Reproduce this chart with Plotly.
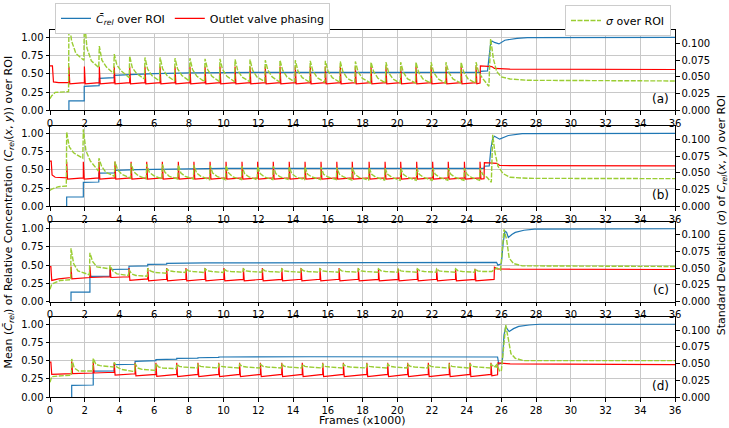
import plotly.graph_objects as go

# ---------------- axis ticks / labels ----------------
FRAME_TICKS = [0, 2, 4, 6, 8, 10, 12, 14, 16, 18, 20, 22, 24, 26, 28, 30, 32, 34, 36]
FRAME_TICK_TEXT = [str(v) for v in FRAME_TICKS]
MEAN_TICKS = [0, 0.25, 0.5, 0.75, 1.0]
MEAN_TICK_TEXT = ["0.00", "0.25", "0.50", "0.75", "1.00"]
SIG_TICKS = [0, 0.025, 0.05, 0.075, 0.1]
SIG_TICK_TEXT = ["0.000", "0.025", "0.050", "0.075", "0.100"]
PANEL_LABELS = ["(a)", "(b)", "(c)", "(d)"]

# ---------------- panel (a) ----------------
A_BLUE = [(1.09, 0), (1.09, 0.13), (1.97, 0.13), (1.97, 0.33), (2.83, 0.34), (2.84, 0.44),
          (3.69, 0.45), (3.70, 0.48), (4.6, 0.49), (6, 0.505), (8, 0.515), (12, 0.52),
          (24.78, 0.52), (24.8, 0.535), (25.2, 0.54), (25.3, 0.80), (25.38, 0.92), (25.46, 0.95),
          (25.6, 0.93), (25.86, 0.91), (26.2, 0.96), (26.9, 0.985), (27.5, 0.995), (36, 1.0)]
A_RED_HEAD = [(0, 0.61), (0.14, 0.61), (0.2, 0.39), (0.5, 0.38)]
A_RED = [(1.09, 0.38, 0.60, 0.365), (1.98, 0.38, 0.60, 0.365), (2.84, 0.38, 0.60, 0.365),
         (3.70, 0.38, 0.60, 0.365), (4.59, 0.38, 0.60, 0.365), (5.47, 0.38, 0.60, 0.365),
         (6.34, 0.38, 0.60, 0.365), (7.20, 0.38, 0.60, 0.365), (8.06, 0.38, 0.60, 0.365),
         (8.93, 0.38, 0.60, 0.365), (9.79, 0.38, 0.60, 0.365), (10.66, 0.38, 0.60, 0.365),
         (11.52, 0.38, 0.60, 0.365), (12.40, 0.38, 0.60, 0.365), (13.25, 0.38, 0.60, 0.365),
         (14.13, 0.38, 0.60, 0.365), (14.99, 0.38, 0.60, 0.365), (15.86, 0.38, 0.60, 0.365),
         (16.72, 0.38, 0.60, 0.365), (17.59, 0.38, 0.60, 0.365), (18.49, 0.38, 0.60, 0.365),
         (19.35, 0.38, 0.60, 0.365), (20.20, 0.38, 0.60, 0.365), (21.08, 0.38, 0.60, 0.365),
         (21.95, 0.38, 0.60, 0.365), (22.81, 0.38, 0.60, 0.365), (23.68, 0.38, 0.60, 0.365),
         (24.54, 0.38, 0.60, 0.365)]
A_RED_TAIL = [(24.77, 0.375), (24.79, 0.61), (25.45, 0.60), (25.6, 0.575), (26.5, 0.565), (36, 0.56)]
A_SIG_HEAD = [(0, 0.0175), (0.1, 0.022), (0.3, 0.027), (1.07, 0.028)]
A_SIG = [(1.09, 0.136, 0.104, 0.085, 0.075), (1.98, 0.136, 0.093, 0.074, 0.064),
         (2.84, 0.096, 0.075, 0.065, 0.055), (3.70, 0.084, 0.068, 0.059, 0.049),
         (4.59, 0.081, 0.064, 0.055, 0.047), (5.47, 0.079, 0.062, 0.052, 0.044),
         (6.34, 0.079, 0.062, 0.052, 0.044), (7.20, 0.078, 0.062, 0.052, 0.044),
         (8.06, 0.078, 0.061, 0.051, 0.043), (8.93, 0.077, 0.061, 0.051, 0.043),
         (9.79, 0.077, 0.061, 0.051, 0.043), (10.66, 0.076, 0.060, 0.050, 0.043),
         (11.52, 0.076, 0.060, 0.050, 0.043), (12.40, 0.075, 0.060, 0.050, 0.0425),
         (13.25, 0.075, 0.060, 0.050, 0.0425), (14.13, 0.075, 0.059, 0.049, 0.042),
         (14.99, 0.074, 0.059, 0.049, 0.042), (15.86, 0.074, 0.059, 0.049, 0.042),
         (16.72, 0.073, 0.058, 0.048, 0.042), (17.59, 0.073, 0.058, 0.048, 0.041),
         (18.49, 0.072, 0.058, 0.048, 0.041), (19.35, 0.072, 0.057, 0.047, 0.041),
         (20.20, 0.072, 0.057, 0.047, 0.041), (21.08, 0.072, 0.057, 0.047, 0.041),
         (21.95, 0.072, 0.057, 0.047, 0.041), (22.81, 0.072, 0.057, 0.047, 0.041),
         (23.68, 0.072, 0.057, 0.047, 0.041), (24.54, 0.072, 0.057, 0.047, 0.041)]
A_SIG_TAIL = [(25.14, 0.041), (25.28, 0.036), (25.38, 0.107), (25.54, 0.077), (25.73, 0.058),
              (26.0, 0.050), (26.5, 0.047), (27.5, 0.045), (36, 0.044)]

# ---------------- panel (b) ----------------
B_BLUE = [(0.96, 0), (0.96, 0.13), (1.92, 0.13), (1.92, 0.33), (2.81, 0.335), (2.82, 0.455),
          (3.73, 0.46), (3.74, 0.495), (5, 0.505), (7, 0.515), (10, 0.52), (25.0, 0.52),
          (25.02, 0.55), (25.3, 0.555), (25.4, 0.80), (25.5, 0.93), (25.6, 0.96), (25.9, 0.92),
          (26.4, 0.97), (27.2, 0.995), (36, 1.0)]
B_RED_HEAD = [(0, 0.62), (0.07, 0.62), (0.12, 0.43), (0.3, 0.40)]
B_RED = [(0.96, 0.39, 0.61, 0.375), (1.92, 0.39, 0.61, 0.375), (2.82, 0.39, 0.61, 0.375),
         (3.74, 0.39, 0.61, 0.375), (4.67, 0.39, 0.61, 0.375), (5.57, 0.39, 0.61, 0.375),
         (6.47, 0.39, 0.61, 0.375), (7.39, 0.39, 0.61, 0.375), (8.29, 0.39, 0.61, 0.375),
         (9.22, 0.39, 0.61, 0.375), (10.14, 0.39, 0.61, 0.375), (11.06, 0.39, 0.61, 0.375),
         (11.96, 0.39, 0.61, 0.375), (12.86, 0.39, 0.61, 0.375), (13.78, 0.39, 0.61, 0.375),
         (14.69, 0.39, 0.61, 0.375), (15.61, 0.39, 0.61, 0.375), (16.52, 0.39, 0.61, 0.375),
         (17.41, 0.39, 0.61, 0.375), (18.38, 0.39, 0.61, 0.375), (19.30, 0.39, 0.61, 0.375),
         (20.20, 0.39, 0.61, 0.375), (21.12, 0.39, 0.61, 0.375), (22.04, 0.39, 0.61, 0.375),
         (22.94, 0.39, 0.61, 0.375), (23.87, 0.39, 0.61, 0.375), (24.77, 0.39, 0.61, 0.375)]
B_RED_TAIL = [(25.0, 0.38), (25.02, 0.60), (25.75, 0.59), (25.9, 0.56), (36, 0.555)]
B_SIG_HEAD = [(0, 0.024), (0.1, 0.026), (0.5, 0.0295), (0.94, 0.0305)]
B_SIG = [(0.96, 0.111, 0.089, 0.080, 0.072), (1.92, 0.115, 0.083, 0.068, 0.053),
         (2.82, 0.072, 0.060, 0.051, 0.045), (3.74, 0.067, 0.055, 0.048, 0.0425),
         (4.67, 0.064, 0.052, 0.046, 0.041), (5.57, 0.063, 0.051, 0.046, 0.041),
         (6.47, 0.063, 0.051, 0.045, 0.041), (7.39, 0.062, 0.050, 0.045, 0.041),
         (8.29, 0.062, 0.050, 0.045, 0.040), (9.22, 0.061, 0.050, 0.045, 0.040),
         (10.14, 0.061, 0.050, 0.044, 0.040), (11.06, 0.060, 0.049, 0.044, 0.040),
         (11.96, 0.060, 0.049, 0.044, 0.040), (12.86, 0.060, 0.049, 0.044, 0.040),
         (13.78, 0.059, 0.049, 0.044, 0.040), (14.69, 0.059, 0.048, 0.044, 0.040),
         (15.61, 0.059, 0.048, 0.044, 0.040), (16.52, 0.058, 0.048, 0.044, 0.0395),
         (17.41, 0.058, 0.048, 0.0435, 0.0395), (18.38, 0.058, 0.048, 0.0435, 0.0395),
         (19.30, 0.057, 0.048, 0.0435, 0.039), (20.20, 0.057, 0.048, 0.0435, 0.039),
         (21.12, 0.057, 0.048, 0.0435, 0.039), (22.04, 0.057, 0.048, 0.0435, 0.039),
         (22.94, 0.057, 0.048, 0.0435, 0.039), (23.87, 0.057, 0.048, 0.0435, 0.039),
         (24.77, 0.057, 0.048, 0.0435, 0.039)]
B_SIG_TAIL = [(25.3, 0.039), (25.42, 0.036), (25.5, 0.107), (25.62, 0.082), (25.8, 0.060),
              (26.1, 0.049), (26.5, 0.0435), (27.5, 0.042), (36, 0.0415)]

# ---------------- panel (c) ----------------
C_BLUE = [(1.21, 0), (1.21, 0.13), (2.30, 0.13), (2.30, 0.345), (3.46, 0.35), (3.46, 0.44),
          (4.55, 0.445), (4.55, 0.485), (5.63, 0.49), (5.63, 0.51), (6.72, 0.515), (6.72, 0.525),
          (9, 0.53), (14, 0.535), (25.72, 0.537), (25.8, 0.50), (26.0, 0.52), (26.1, 0.80),
          (26.2, 0.97), (26.3, 0.95), (26.4, 0.88), (26.6, 0.92), (26.8, 0.95), (27.3, 0.98),
          (27.9, 0.995), (36, 1.0)]
C_RED_HEAD = [(0, 0.48), (0.05, 0.48), (0.1, 0.29), (0.5, 0.31)]
C_RED = [(1.21, 0.33, 0.48, 0.31), (2.30, 0.33, 0.48, 0.33), (3.46, 0.34, 0.47, 0.33),
         (4.55, 0.34, 0.46, 0.29), (5.63, 0.31, 0.46, 0.285), (6.72, 0.305, 0.46, 0.285),
         (7.83, 0.305, 0.46, 0.285), (8.93, 0.305, 0.46, 0.285), (10.02, 0.305, 0.46, 0.285),
         (11.14, 0.305, 0.46, 0.285), (12.23, 0.305, 0.46, 0.285), (13.35, 0.305, 0.46, 0.285),
         (14.46, 0.305, 0.46, 0.285), (15.55, 0.305, 0.46, 0.285), (16.65, 0.305, 0.46, 0.285),
         (17.76, 0.305, 0.46, 0.285), (18.92, 0.305, 0.45, 0.285), (20.06, 0.305, 0.45, 0.285),
         (21.16, 0.305, 0.45, 0.285), (22.27, 0.305, 0.45, 0.285), (23.36, 0.305, 0.45, 0.285),
         (24.48, 0.305, 0.45, 0.285)]
C_RED_TAIL = [(25.58, 0.305), (25.6, 0.47), (25.75, 0.45), (26.5, 0.445), (36, 0.44)]
C_SIG_HEAD = [(0, 0.0185), (0.1, 0.026), (0.58, 0.0316), (1.19, 0.0327)]
C_SIG = [(1.21, 0.080, 0.057, 0.046, 0.040), (2.30, 0.073, 0.060, 0.052, 0.049),
         (3.46, 0.0545, 0.046, 0.0415, 0.039), (4.55, 0.048, 0.0415, 0.039, 0.038),
         (5.63, 0.050, 0.046, 0.0435, 0.0425), (6.72, 0.049, 0.046, 0.045, 0.0435),
         (7.83, 0.049, 0.046, 0.045, 0.0435), (8.93, 0.049, 0.046, 0.045, 0.0435),
         (10.02, 0.049, 0.046, 0.045, 0.044), (11.14, 0.049, 0.046, 0.045, 0.044),
         (12.23, 0.049, 0.046, 0.045, 0.044), (13.35, 0.049, 0.046, 0.045, 0.044),
         (14.46, 0.049, 0.046, 0.045, 0.044), (15.55, 0.049, 0.046, 0.045, 0.044),
         (16.65, 0.049, 0.046, 0.045, 0.044), (17.76, 0.049, 0.046, 0.045, 0.044),
         (18.92, 0.049, 0.046, 0.045, 0.044), (20.06, 0.049, 0.046, 0.045, 0.044),
         (21.16, 0.049, 0.046, 0.045, 0.044), (22.27, 0.049, 0.046, 0.045, 0.044),
         (23.36, 0.049, 0.046, 0.045, 0.044), (24.48, 0.049, 0.046, 0.045, 0.044)]
C_SIG_TAIL = [(25.45, 0.045), (25.6, 0.048), (25.75, 0.050), (25.95, 0.047), (26.15, 0.108),
              (26.3, 0.093), (26.45, 0.065), (26.7, 0.057), (27.2, 0.0535), (36, 0.0525)]

# ---------------- panel (d) ----------------
D_BLUE = [(1.25, 0), (1.25, 0.16), (2.49, 0.165), (2.49, 0.355), (3.70, 0.36), (3.70, 0.445),
          (4.90, 0.45), (4.90, 0.49), (6.10, 0.50), (6.10, 0.515), (7.30, 0.52), (7.30, 0.53),
          (8.52, 0.535), (8.52, 0.54), (9.72, 0.545), (9.72, 0.55), (15, 0.553), (25.78, 0.55),
          (25.85, 0.45), (26.05, 0.47), (26.15, 0.85), (26.25, 0.97), (26.35, 0.93), (26.45, 0.90),
          (26.7, 0.94), (27.0, 0.97), (27.6, 0.99), (28.2, 1.0), (36, 1.0)]
D_RED_HEAD = [(0, 0.48), (0.05, 0.48), (0.1, 0.31), (0.6, 0.315)]
D_RED = [(1.25, 0.32, 0.49, 0.32), (2.49, 0.33, 0.48, 0.33), (3.70, 0.34, 0.47, 0.30),
         (4.90, 0.32, 0.47, 0.29), (6.10, 0.31, 0.47, 0.285), (7.30, 0.31, 0.47, 0.28),
         (8.52, 0.31, 0.47, 0.28), (9.72, 0.31, 0.47, 0.28), (10.92, 0.31, 0.47, 0.28),
         (12.12, 0.31, 0.47, 0.28), (13.35, 0.31, 0.47, 0.28), (14.53, 0.31, 0.47, 0.28),
         (15.71, 0.31, 0.47, 0.28), (16.90, 0.31, 0.47, 0.28), (18.25, 0.31, 0.47, 0.28),
         (19.45, 0.31, 0.47, 0.28), (20.60, 0.31, 0.47, 0.28), (21.79, 0.31, 0.47, 0.28),
         (23.00, 0.31, 0.47, 0.28), (24.19, 0.31, 0.47, 0.28), (25.40, 0.31, 0.47, 0.29)]
D_RED_TAIL = [(25.78, 0.305), (25.8, 0.47), (26.5, 0.455), (36, 0.445)]
D_SIG_HEAD = [(0, 0.022), (0.1, 0.0305), (0.5, 0.0316), (1.23, 0.0327)]
D_SIG = [(1.25, 0.057, 0.0435, 0.039, 0.039), (2.49, 0.058, 0.049, 0.047, 0.045),
         (3.70, 0.052, 0.045, 0.0415, 0.038), (4.90, 0.050, 0.0435, 0.0415, 0.040),
         (6.10, 0.050, 0.045, 0.0435, 0.0425), (7.30, 0.049, 0.046, 0.045, 0.0435),
         (8.52, 0.049, 0.046, 0.045, 0.0435), (9.72, 0.049, 0.046, 0.045, 0.0435),
         (10.92, 0.049, 0.046, 0.045, 0.0435), (12.12, 0.049, 0.046, 0.045, 0.0435),
         (13.35, 0.049, 0.046, 0.045, 0.0435), (14.53, 0.049, 0.046, 0.045, 0.0435),
         (15.71, 0.049, 0.046, 0.045, 0.0435), (16.90, 0.049, 0.046, 0.045, 0.0435),
         (18.25, 0.049, 0.046, 0.045, 0.0435), (19.45, 0.049, 0.046, 0.045, 0.0435),
         (20.60, 0.049, 0.046, 0.045, 0.0435), (21.79, 0.049, 0.046, 0.045, 0.0435),
         (23.00, 0.049, 0.046, 0.045, 0.0435), (24.19, 0.049, 0.046, 0.045, 0.0435),
         (25.40, 0.049, 0.046, 0.045, 0.0435)]
D_SIG_TAIL = [(25.6, 0.045), (25.75, 0.049), (25.9, 0.038), (26.0, 0.040), (26.25, 0.108),
              (26.4, 0.087), (26.55, 0.065), (26.8, 0.058), (27.3, 0.0545), (36, 0.0545)]

PANELS = [
    (A_BLUE, A_RED_HEAD, A_RED, A_RED_TAIL, A_SIG_HEAD, A_SIG, A_SIG_TAIL),
    (B_BLUE, B_RED_HEAD, B_RED, B_RED_TAIL, B_SIG_HEAD, B_SIG, B_SIG_TAIL),
    (C_BLUE, C_RED_HEAD, C_RED, C_RED_TAIL, C_SIG_HEAD, C_SIG, C_SIG_TAIL),
    (D_BLUE, D_RED_HEAD, D_RED, D_RED_TAIL, D_SIG_HEAD, D_SIG, D_SIG_TAIL),
]

# ---------------- styling ----------------
BLUE = "#1f77b4"
RED = "#ff0000"
GREEN = "#9acd32"
FONT = "DejaVu Sans"
DOMAINS = [[0.7807, 1.0], [0.5191, 0.7384], [0.2602, 0.4782], [0.0, 0.2180]]
SPIKE_W = 0.05
DECAY_OFFS = (0.15, 0.4)


def pts(points):
    return [p[0] for p in points], [p[1] for p in points]


def red_path(head, spikes, tail):
    xs, ys = pts(head)
    for t, pre, peak, post in spikes:
        xs += [t, t, t + SPIKE_W]
        ys += [pre, peak, post]
    tx, ty = pts(tail)
    return xs + tx, ys + ty


def sig_path(head, spikes, tail):
    xs, ys = pts(head)
    for i, (t, peak, v1, v2, low) in enumerate(spikes):
        xs += [t, t + DECAY_OFFS[0], t + DECAY_OFFS[1]]
        ys += [peak, v1, v2]
        if i + 1 < len(spikes):
            xs.append(spikes[i + 1][0] - 0.03)
            ys.append(low)
    tx, ty = pts(tail)
    return xs + tx, ys + ty


fig = go.Figure()
MEAN_NAME = "<i>C\u0304</i><sub><i>rel</i></sub> over ROI"
for i, (blue, rh, rs, rt, sh, ss, st) in enumerate(PANELS):
    n = i + 1
    xr = "x" if n == 1 else f"x{n}"
    yl = 2 * i + 1
    yr = 2 * i + 2
    ylr = "y" if yl == 1 else f"y{yl}"
    yrr = f"y{yr}"
    bx, by = pts(blue)
    fig.add_trace(go.Scatter(x=bx, y=by, mode="lines", line=dict(color=BLUE, width=1.2),
                             xaxis=xr, yaxis=ylr, name=MEAN_NAME, showlegend=(i == 0),
                             legend="legend"))
    rx, ry = red_path(rh, rs, rt)
    fig.add_trace(go.Scatter(x=rx, y=ry, mode="lines", line=dict(color=RED, width=1.2),
                             xaxis=xr, yaxis=ylr, name="Outlet valve phasing",
                             showlegend=(i == 0), legend="legend"))
    sx, sy = sig_path(sh, ss, st)
    fig.add_trace(go.Scatter(x=sx, y=sy, mode="lines",
                             line=dict(color=GREEN, width=1.4, dash="5px,1.5px"),
                             xaxis=xr, yaxis=yrr, name="<i>\u03c3</i> over ROI",
                             showlegend=(i == 0), legend="legend2"))

axis_common = dict(showline=True, linecolor="black", linewidth=1, ticks="outside",
                   ticklen=3.5, tickwidth=0.8, tickcolor="black", zeroline=False,
                   tickfont=dict(family=FONT, size=10, color="black"))
layout_axes = {}
for i in range(4):
    n = i + 1
    xr = "x" if n == 1 else f"x{n}"
    yl = 2 * i + 1
    yr = 2 * i + 2
    ylr = "y" if yl == 1 else f"y{yl}"
    xkey = "xaxis" if n == 1 else f"xaxis{n}"
    ylkey = "yaxis" if yl == 1 else f"yaxis{yl}"
    layout_axes[xkey] = dict(domain=[0, 1], anchor=ylr, range=[0, 36], tickmode="array",
                             tickvals=FRAME_TICKS, ticktext=FRAME_TICK_TEXT, mirror=True,
                             showgrid=True, gridcolor="#c8c8c8", gridwidth=1, **axis_common)
    layout_axes[ylkey] = dict(domain=DOMAINS[i], anchor=xr, range=[0, 1.1], tickmode="array",
                              tickvals=MEAN_TICKS, ticktext=MEAN_TICK_TEXT, mirror=True,
                              showgrid=True, gridcolor="#c8c8c8", gridwidth=1, **axis_common)
    layout_axes[f"yaxis{yr}"] = dict(domain=DOMAINS[i], anchor=xr, overlaying=ylr, side="right",
                                     range=[0, 0.12], tickmode="array", tickvals=SIG_TICKS,
                                     ticktext=SIG_TICK_TEXT, showgrid=False, **axis_common)

annotations = []
for i, lab in enumerate(PANEL_LABELS):
    yl = 2 * i + 1
    ylr = "y" if yl == 1 else f"y{yl}"
    annotations.append(dict(text=lab, xref="paper", x=0.993, xanchor="right",
                            yref=f"{ylr} domain", y=0.03, yanchor="bottom", showarrow=False,
                            font=dict(family=FONT, size=12, color="black")))
annotations.append(dict(text="Frames (x1000)", xref="paper", yref="paper", x=0.5, y=-0.063,
                        xanchor="center", yanchor="middle", showarrow=False,
                        font=dict(family=FONT, size=11, color="black")))
annotations.append(dict(text="Mean (<i>C\u0304</i><sub><i>rel</i></sub>) of Relative Concentration "
                             "(<i>C</i><sub><i>rel</i></sub>(<i>x</i>, <i>y</i>)) over ROI",
                        xref="paper", yref="paper", x=-0.066, y=0.505, textangle=-90,
                        xanchor="center", yanchor="middle", showarrow=False,
                        font=dict(family=FONT, size=11, color="black")))
annotations.append(dict(text="Standard Deviation (<i>\u03c3</i>) of <i>C</i><sub><i>rel</i></sub>"
                             "(<i>x</i>, <i>y</i>) over ROI",
                        xref="paper", yref="paper", x=1.075, y=0.495, textangle=-90,
                        xanchor="center", yanchor="middle", showarrow=False,
                        font=dict(family=FONT, size=11, color="black")))

fig.update_layout(
    width=729, height=428,
    margin=dict(l=50, r=54, t=30, b=31, autoexpand=False),
    paper_bgcolor="white", plot_bgcolor="white",
    font=dict(family=FONT, size=10, color="black"),
    legend=dict(orientation="h", x=0.008, xanchor="left", y=1.074, yanchor="top",
                bgcolor="white", bordercolor="#cccccc", borderwidth=1,
                font=dict(family=FONT, size=11), itemwidth=30, traceorder="normal"),
    legend2=dict(orientation="h", x=0.9936, xanchor="right", y=1.068, yanchor="top",
                 bgcolor="white", bordercolor="#cccccc", borderwidth=1,
                 font=dict(family=FONT, size=11), itemwidth=30),
    annotations=annotations,
    showlegend=True,
    **layout_axes,
)

fig.write_html("out.html", config={"displayModeBar": False},
               post_script="document.body.style.margin='0';document.body.style.padding='0';")
